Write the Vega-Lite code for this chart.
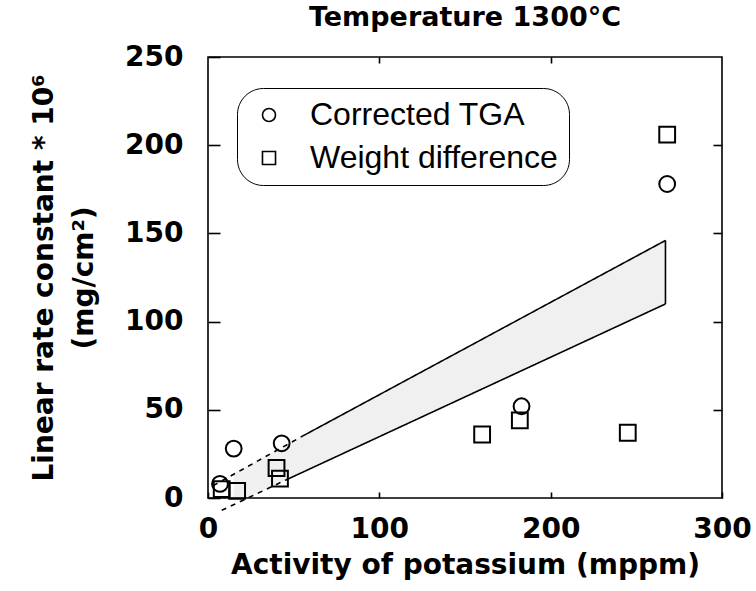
{
  "$schema": "https://vega.github.io/schema/vega-lite/v6.json",
  "width": 514,
  "height": 441,
  "autosize": "none",
  "padding": {"left": 208, "top": 57, "right": 34, "bottom": 93},
  "background": "white",
  "title": {"text": "Temperature  1300°C", "font": "DejaVu Sans", "fontSize": 27, "fontWeight": "bold", "color": "black", "offset": 11, "anchor": "middle"},
  "datasets": {
    "band": [
      {"x": 15, "upper": 14, "lower": 0},
      {"x": 23, "upper": 18, "lower": 0},
      {"x": 50, "upper": 32, "lower": 12},
      {"x": 100, "upper": 58, "lower": 35},
      {"x": 150, "upper": 84, "lower": 57},
      {"x": 200, "upper": 110, "lower": 80},
      {"x": 267, "upper": 146, "lower": 110}
    ],
    "lines": [
      {"seg": "upper dashed", "style": "dash", "x": 3, "y": 7},
      {"seg": "upper dashed", "style": "dash", "x": 55, "y": 35},
      {"seg": "upper solid", "style": "solid", "x": 55, "y": 35},
      {"seg": "upper solid", "style": "solid", "x": 267, "y": 146},
      {"seg": "lower dashed", "style": "dash", "x": 8, "y": -7},
      {"seg": "lower dashed", "style": "dash", "x": 45, "y": 10},
      {"seg": "lower solid", "style": "solid", "x": 45, "y": 10},
      {"seg": "lower solid", "style": "solid", "x": 267, "y": 110}
    ],
    "edge": [{"x": 267, "y": 110, "y2": 146}],
    "points": [
      {"series": "Corrected TGA", "x": 7, "y": 8},
      {"series": "Corrected TGA", "x": 15, "y": 28},
      {"series": "Corrected TGA", "x": 43, "y": 31},
      {"series": "Corrected TGA", "x": 183, "y": 52},
      {"series": "Corrected TGA", "x": 268, "y": 178},
      {"series": "Weight difference", "x": 8, "y": 5},
      {"series": "Weight difference", "x": 17, "y": 4},
      {"series": "Weight difference", "x": 40, "y": 17},
      {"series": "Weight difference", "x": 42, "y": 11},
      {"series": "Weight difference", "x": 160, "y": 36},
      {"series": "Weight difference", "x": 182, "y": 44},
      {"series": "Weight difference", "x": 245, "y": 37},
      {"series": "Weight difference", "x": 268, "y": 206}
    ]
  },
  "layer": [
    {
      "data": {"name": "band"},
      "mark": {"type": "area", "fill": "#000000", "fillOpacity": 0.06, "stroke": null},
      "encoding": {
        "x": {"field": "x", "type": "quantitative", "scale": {"domain": [0, 300], "nice": false},
          "axis": {"orient": "bottom", "values": [0, 100, 200, 300], "labelFlush": false, "tickSize": -6, "labelPadding": 23,
            "title": "Activity of potassium (mppm)", "titlePadding": 8}},
        "y": {"field": "upper", "type": "quantitative", "scale": {"domain": [0, 250], "nice": false},
          "axis": {"orient": "left", "values": [0, 50, 100, 150, 200, 250], "tickSize": -12, "labelPadding": 37,
            "title": ["Linear rate constant * 10⁶", "(mg/cm²)"], "titlePadding": 26, "titleLineHeight": 40}},
        "y2": {"field": "lower"}
      }
    },
    {
      "data": {"name": "lines"},
      "mark": {"type": "line", "color": "black", "strokeWidth": 1.6},
      "encoding": {
        "x": {"field": "x", "type": "quantitative", "axis": null},
        "y": {"field": "y", "type": "quantitative", "axis": null},
        "detail": {"field": "seg"},
        "strokeDash": {"field": "style", "type": "nominal", "scale": {"domain": ["solid", "dash"], "range": [[1, 0], [5, 5]]}, "legend": null}
      }
    },
    {
      "data": {"name": "edge"},
      "mark": {"type": "rule", "color": "black", "strokeWidth": 1.6},
      "encoding": {
        "x": {"field": "x", "type": "quantitative",
          "axis": {"orient": "top", "values": [100, 200], "labels": false, "tickSize": -6, "title": null}},
        "y": {"field": "y", "type": "quantitative",
          "axis": {"orient": "right", "values": [50, 100, 150, 200], "labels": false, "tickSize": -9, "title": null}},
        "y2": {"field": "y2"}
      }
    },
    {
      "data": {"name": "points"},
      "mark": {"type": "point", "filled": false, "stroke": "black", "strokeWidth": 2, "size": 250, "opacity": 1},
      "encoding": {
        "x": {"field": "x", "type": "quantitative", "axis": null},
        "y": {"field": "y", "type": "quantitative", "axis": null},
        "shape": {"field": "series", "type": "nominal",
          "scale": {"domain": ["Corrected TGA", "Weight difference"], "range": ["circle", "square"]},
          "legend": {"orient": "none", "legendX": 29, "legendY": 31, "title": null,
            "labelFont": "Liberation Sans", "labelFontSize": 32, "labelFontWeight": "normal", "labelColor": "black", "labelLimit": 400,
            "symbolStrokeColor": "black", "symbolStrokeWidth": 1.6, "symbolSize": 170, "symbolType": "circle",
            "strokeColor": "black", "cornerRadius": 26, "padding": 11, "rowPadding": 11, "labelOffset": 25, "symbolOffset": 5}}
      }
    }
  ],
  "resolve": {"axis": {"x": "independent", "y": "independent"}},
  "config": {
    "view": {"stroke": "black", "strokeWidth": 1.6},
    "axis": {"domain": false, "grid": false, "tickColor": "black", "tickWidth": 1.6, "labelColor": "black", "titleColor": "black",
      "labelFont": "DejaVu Sans", "labelFontSize": 28, "labelFontWeight": "bold",
      "titleFont": "DejaVu Sans", "titleFontSize": 28, "titleFontWeight": "bold"}
  }
}
